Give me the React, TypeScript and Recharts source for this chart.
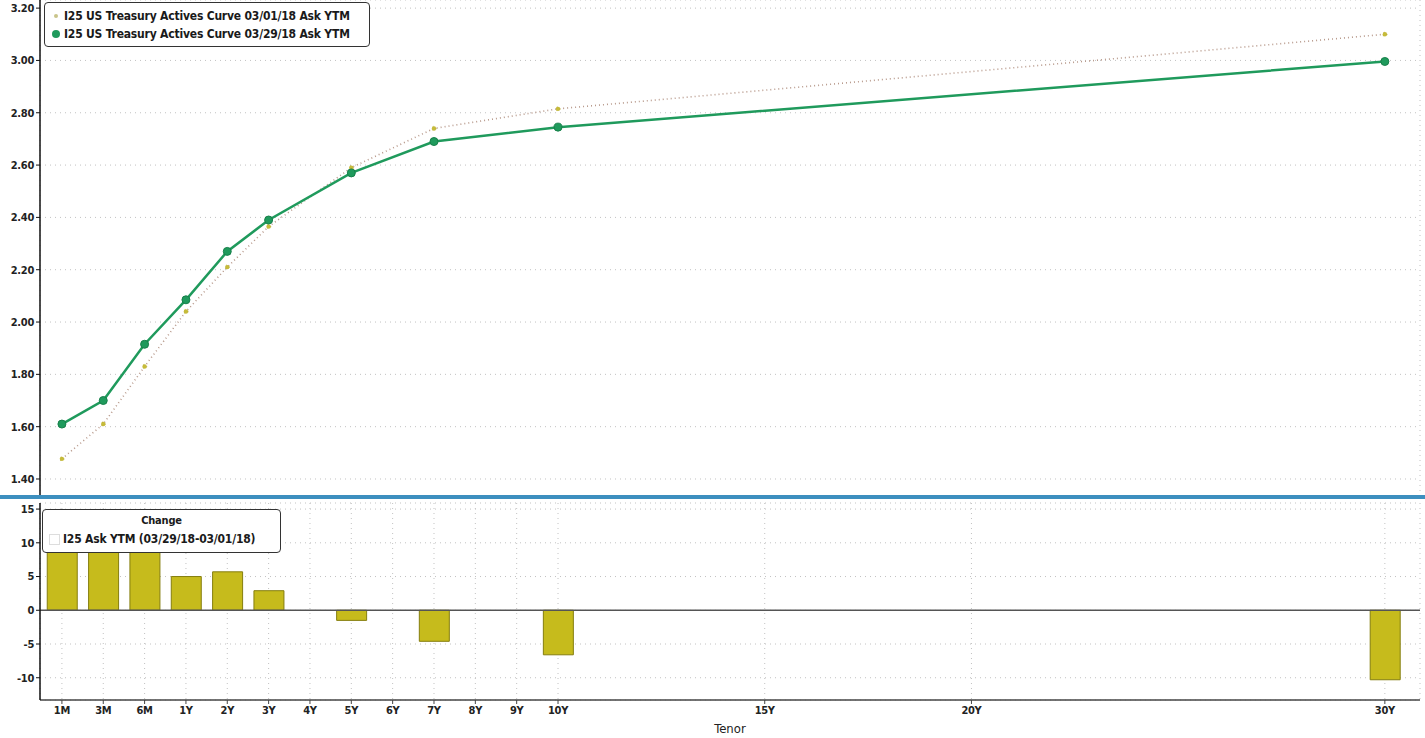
import React from 'react';
import {
  ComposedChart,
  Line,
  Bar,
  XAxis,
  YAxis,
  CartesianGrid,
  ReferenceLine,
} from 'recharts';

// tenor axis: slots are evenly spaced for 1M..10Y, then by years
const tickLabels = ['1M', '3M', '6M', '1Y', '2Y', '3Y', '4Y', '5Y', '6Y', '7Y', '8Y', '9Y', '10Y', '15Y', '20Y', '30Y'];
const tickSlots = [0, 1, 2, 3, 4, 5, 6, 7, 8, 9, 10, 11, 12, 17, 22, 32];

// points actually quoted on the curve
const curveTenors = ['1M', '3M', '6M', '1Y', '2Y', '3Y', '5Y', '7Y', '10Y', '30Y'];
const ytm0301 = [1.477, 1.61, 1.83, 2.04, 2.21, 2.365, 2.59, 2.74, 2.815, 3.1];
const ytm0329 = [1.61, 1.7, 1.915, 2.085, 2.27, 2.39, 2.57, 2.69, 2.745, 2.996];
const changeBp = [13.3, 9.0, 9.0, 5.0, 5.7, 2.9, -1.5, -4.6, -6.6, -10.3];

const topTicks = [1.4, 1.6, 1.8, 2.0, 2.2, 2.4, 2.6, 2.8, 3.0, 3.2];
const bottomTicks = [-10, -5, 0, 5, 10, 15];

const slotOf = (t: string) => tickSlots[tickLabels.indexOf(t)];

const data = curveTenors.map((t, i) => ({
  tenor: t,
  slot: slotOf(t),
  a: ytm0301[i],
  b: ytm0329[i],
  chg: changeBp[i],
}));

const FONT = '"DejaVu Sans", sans-serif';
const tickStyle = {
  fontSize: 11,
  fill: '#222',
  fontFamily: FONT,
  fontWeight: 700,
  fontStretch: 'condensed',
  letterSpacing: -0.3,
} as React.CSSProperties;
const X_DOMAIN: [number, number] = [-0.53, 32.85];

const boxStyle: React.CSSProperties = {
  position: 'absolute',
  border: '1.5px solid #333',
  borderRadius: 4,
  background: '#fff',
  fontFamily: FONT,
  fontWeight: 700,
  fontStretch: 'condensed',
  fontSize: 12,
  letterSpacing: -0.2,
  color: '#1a1a1a',
  whiteSpace: 'nowrap',
  boxSizing: 'border-box',
};

const TopLegend = () => (
  <div style={{ ...boxStyle, left: 44, top: 2, width: 326, height: 45, padding: '4px 6px', lineHeight: '18px' }}>
    <div style={{ display: 'flex', alignItems: 'center' }}>
      <span style={{ width: 4, height: 4, borderRadius: 2, background: '#c9c48a', margin: '0 6px 0 3px' }} />
      I25 US Treasury Actives Curve 03/01/18 Ask YTM
    </div>
    <div style={{ display: 'flex', alignItems: 'center' }}>
      <span style={{ width: 8, height: 8, borderRadius: 4, background: '#1f9a5c', margin: '0 4px 0 1px' }} />
      I25 US Treasury Actives Curve 03/29/18 Ask YTM
    </div>
  </div>
);

const BottomLegend = () => (
  <div style={{ ...boxStyle, left: 42, top: 509, width: 239, height: 44, padding: '2px 6px', lineHeight: '18px' }}>
    <div style={{ textAlign: 'center', fontSize: 11 }}>Change</div>
    <div style={{ display: 'flex', alignItems: 'center' }}>
      <span style={{ width: 9, height: 9, border: '1px solid #ddd', margin: '0 3px 0 0' }} />
      I25 Ask YTM (03/29/18-03/01/18)
    </div>
  </div>
);

export default function App() {
  return (
    <div style={{ position: 'absolute', left: 0, top: 0, width: 1425, height: 738, background: '#fff', overflow: 'hidden' }}>
      <ComposedChart width={1425} height={496} data={data} margin={{ top: 0, right: 5, left: 0, bottom: 0 }}>
        <CartesianGrid stroke="#c2c2c2" strokeDasharray="1 4" />
        <XAxis
          type="number"
          dataKey="slot"
          domain={X_DOMAIN}
          ticks={tickSlots}
          allowDataOverflow
          height={0}
          tick={false}
          axisLine={false}
          tickLine={false}
        />
        <YAxis
          type="number"
          domain={[1.335, 3.231]}
          ticks={topTicks}
          allowDataOverflow
          width={40}
          tick={tickStyle}
          tickFormatter={(v: number) => v.toFixed(2)}
          axisLine={{ stroke: '#111', strokeWidth: 1.5 }}
          tickLine={{ stroke: '#111' }}
          tickSize={4}
        />
        <Line
          type="linear"
          dataKey="a"
          stroke="#b89a8c"
          strokeWidth={1.6}
          strokeDasharray="1 3"
          dot={{ r: 2.2, fill: '#c6bb3a', stroke: '#a89c20', strokeWidth: 0.5 }}
          isAnimationActive={false}
        />
        <Line
          type="linear"
          dataKey="b"
          stroke="#1f9a5c"
          strokeWidth={2.5}
          dot={{ r: 4, fill: '#1f9a5c', stroke: '#17804a', strokeWidth: 1 }}
          isAnimationActive={false}
        />
      </ComposedChart>
      <div style={{ position: 'absolute', left: 0, top: 495, width: 1425, height: 4, background: '#3d8fbf' }} />
      <div style={{ position: 'absolute', left: 0, top: 500 }}>
        <ComposedChart width={1425} height={238} data={data} margin={{ top: 3, right: 5, left: 0, bottom: 0 }}>
          <CartesianGrid stroke="#c2c2c2" strokeDasharray="1 4" />
          <XAxis
            type="number"
            dataKey="slot"
            domain={X_DOMAIN}
            ticks={tickSlots}
            allowDataOverflow
            height={38}
            tick={tickStyle}
            tickFormatter={(v: number) => tickLabels[tickSlots.indexOf(v)]}
            axisLine={{ stroke: '#444', strokeWidth: 1.5 }}
            tickLine={{ stroke: '#444' }}
            tickSize={4}
            label={{
              value: 'Tenor',
              position: 'insideBottom',
              offset: 5,
              fill: '#222',
              fontSize: 13,
              fontFamily: FONT,
              style: { fontStretch: 'condensed' },
            }}
          />
          <YAxis
            type="number"
            domain={[-13.3, 15.9]}
            ticks={bottomTicks}
            allowDataOverflow
            width={40}
            tick={tickStyle}
            axisLine={{ stroke: '#111', strokeWidth: 1.5 }}
            tickLine={{ stroke: '#111' }}
            tickSize={4}
          />
          <ReferenceLine y={0} stroke="#555" strokeWidth={1.5} />
          <Bar dataKey="chg" barSize={30} fill="#c6bb1c" stroke="#857e0e" strokeWidth={1} isAnimationActive={false} />
        </ComposedChart>
      </div>
      <TopLegend />
      <BottomLegend />
    </div>
  );
}
